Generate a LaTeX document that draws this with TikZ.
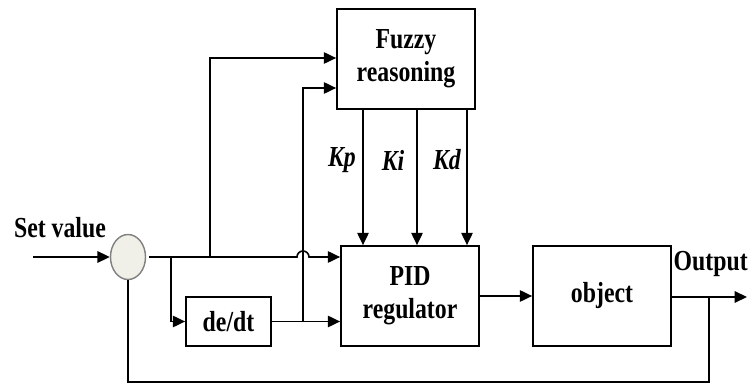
\documentclass[tikz,border=0pt]{standalone}
\usepackage{fontspec}
\setmainfont[FakeStretch=0.82]{Liberation Serif}
\usepackage{tikz}
\usetikzlibrary{positioning,arrows.meta,shapes.geometric}
\definecolor{sumfill}{HTML}{F0F0E8}

\begin{document}
\begin{tikzpicture}[>={Triangle[length=7pt,width=6.5pt]},line width=0.9pt,
  every node/.style={font=\fontsize{16.5}{19}\selectfont\bfseries},
  blockbox/.style={draw,line width=1pt,minimum width=2.76cm,minimum height=2cm,align=center,inner sep=0pt},
  gainlbl/.style={font=\fontsize{16.5}{18}\selectfont\bfseries\itshape}]
\useasboundingbox (0,0) rectangle (15,7.7);
\node[blockbox] (fuzzy) at (8.12,6.52) {Fuzzy\\reasoning};
\node[blockbox] (pid) at (8.2,1.78) {PID\\regulator};
\node[blockbox] (obj) at (12.04,1.78) {object};
\node[blockbox,minimum width=1.7cm,minimum height=0.98cm] (dd) at (4.57,1.27) {de/dt};
\node[draw=gray,fill=sumfill,ellipse,minimum width=0.7cm,minimum height=0.9cm,line width=0.8pt] (sum) at (2.56,2.56) {};
\node (setv) at (1.2,3.14) {Set value};
\node[anchor=east,inner sep=0pt] (outl) at (14.97,2.42) {Output};
\coordinate (in) at (0.66,2.56);
\coordinate (out) at (14.94,1.76);
\coordinate (b1) at (4.2,2.56);
\coordinate (b2) at (3.42,2.56);
\coordinate (b3) at (6.06,1.27);
\coordinate (hop) at (6.06,2.56);
\coordinate (b4) at (14.18,1.76);
\coordinate (fin1) at (6.76,6.54);
\coordinate (fin2) at (6.76,5.94);
\coordinate (bot) at (14.18,0.06);
\draw[->] (in) -- (sum.west);
\draw[->] ([xshift=0.06cm]sum.east) -- ([xshift=-0.12cm]hop) arc[start angle=180,end angle=0,radius=0.12cm] -- (pid.west |- hop);
\draw[->] (b1) |- (fuzzy.west |- fin1);
\draw[->] (b3) |- (fuzzy.west |- fin2);
\draw[->] (b2) |- (dd.west);
\draw[->] (dd.east) -- (pid.west |- dd.east);
\foreach \kx in {7.26,8.34,9.34}
  \draw[->] (fuzzy.south -| \kx,0) -- (pid.north -| \kx,0);
\node[gainlbl] (kp) at (6.84,4.5) {Kp};
\node[gainlbl] (ki) at (7.86,4.5) {Ki};
\node[gainlbl] (kd) at (8.94,4.5) {Kd};
\draw[->] (pid.east) -- (obj.west);
\draw[->] (obj.east |- out) -- (out);
\draw (b4) -- (bot) -| (sum.south);
\end{tikzpicture}
\end{document}
